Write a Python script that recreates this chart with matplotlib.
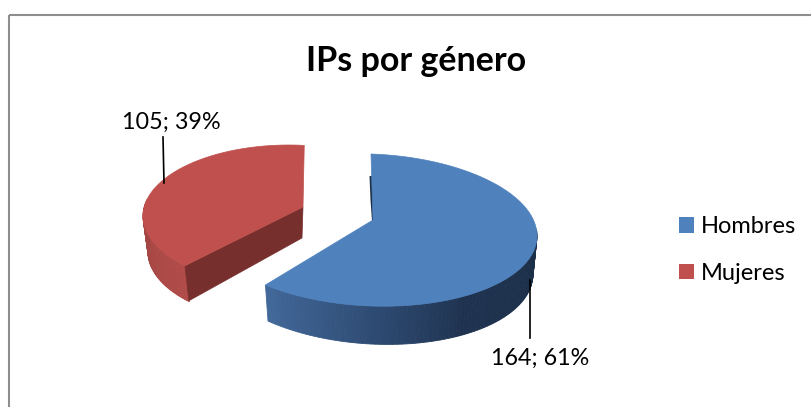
import numpy as np
import matplotlib
matplotlib.use("Agg")
import matplotlib.pyplot as plt
from matplotlib.patches import Rectangle
from matplotlib.colors import to_rgb

title = "IPs por género"
categories = ["Hombres", "Mujeres"]
values = [164, 105]
colors = ["#4f81bd", "#c0504d"]

plt.rcParams["font.family"] = ["Lato", "DejaVu Sans"]

fig = plt.figure(figsize=(8.12, 4.07), dpi=100, facecolor="white")
ax = fig.add_axes([0, 0, 1, 1])
ax.set_xlim(0, 812)
ax.set_ylim(407, 0)
ax.axis("off")

total = sum(values)
spans = [360 * v / total for v in values]


def rim(theta, cx, cy, rx, ry, tilt=0.0):
    t = np.radians(theta)
    x = cx + rx * np.cos(t)
    return np.column_stack([x, cy - ry * np.sin(t) + tilt * (x - cx)])


def side(thetas, top, bottom, stops, shades):
    n = len(thetas) - 1
    rgb = np.array([to_rgb(s) for s in shades])
    for i in range(n):
        f = i / (n - 1)
        col = [np.interp(f, stops, rgb[:, k]) for k in range(3)]
        seg = thetas[i:i + 2]
        pts = np.vstack([rim(seg, *top), rim(seg[::-1], *bottom)])
        ax.fill(pts[:, 0], pts[:, 1], color=col, lw=0.6, zorder=2)


# Hombres: starts at twelve o'clock, runs clockwise
b_top = (371, 230, 166, 76, 0.035)
b_bot = (371, 266, 162, 78, 0.05)
b_apex = (373, 220)
b_th = np.linspace(90 - spans[0], 90, 140)
side(b_th[b_th <= 5], b_top, b_bot, [0, 0.3, 0.55, 1],
     ["#42699a", "#2e4b73", "#1f3350", "#1c2f48"])
ax.fill([369.5, 370.5, 372, 376, 376], [176, 200, 221, 221, 176], color="#1d3049", lw=0, zorder=2)
arc = rim(b_th, *b_top)
pts = np.vstack([[b_apex], arc])
ax.fill(pts[:, 0], pts[:, 1], color=colors[0], lw=0.5, ec=colors[0], zorder=3)

# Mujeres: the remaining slice, pulled out to the left
r_top = (289, 216, 146, 71)
r_bot = (292, 252, 144, 71)
r_apex = (303, 207)
r_start = 84
r_th = np.linspace(r_start, r_start + spans[1], 100)
r_side = r_th[r_th >= 165]
side(r_side[::-1], r_top, r_bot, [0, 0.5, 1], ["#b04b48", "#a94845", "#a04442"])
arc = rim(r_th, *r_top)
end = arc[-1]
wall = np.array([r_apex, end, end + [4, 35], [r_apex[0] - 1, r_apex[1] + 31]])
ax.fill(wall[:, 0], wall[:, 1], color="#772f2d", lw=0.5, ec="#772f2d", zorder=2)
pts = np.vstack([[r_apex], arc])
ax.fill(pts[:, 0], pts[:, 1], color=colors[1], lw=0.5, ec=colors[1], zorder=3)

# Leader lines and data labels
labels = [f"{v}; {round(100 * v / total)}%" for v in values]
ax.plot([530, 530], [280, 338], color="black", lw=1.2, zorder=4)
ax.plot([163, 164], [137, 183], color="black", lw=1.2, zorder=4)
ax.text(540, 358, labels[0], ha="center", va="center", fontsize=16.8, color="black")
ax.text(171.5, 122, labels[1], ha="center", va="center", fontsize=16.8, color="black")

ax.set_title(title, fontsize=24.5, fontweight="bold", color="black", x=0.5125, y=0.805)

# Chart frame: only its top and left edges fall inside the picture
ax.add_patch(Rectangle((9, 15), 830, 420, fc="none", ec="#8e8e8e", lw=1.5, zorder=5, clip_on=True))

# Legend
handles = [Rectangle((0, 0), 1, 1, fc=c, ec="none") for c in colors]
ax.legend(handles, categories, loc="center left", bbox_to_anchor=(679 / 812, 1 - 250 / 407),
          frameon=False, fontsize=17, labelspacing=1.1, handlelength=0.64, handleheight=0.64,
          handletextpad=0.3, borderpad=0, borderaxespad=0)

fig.savefig("out.png", dpi=100)
